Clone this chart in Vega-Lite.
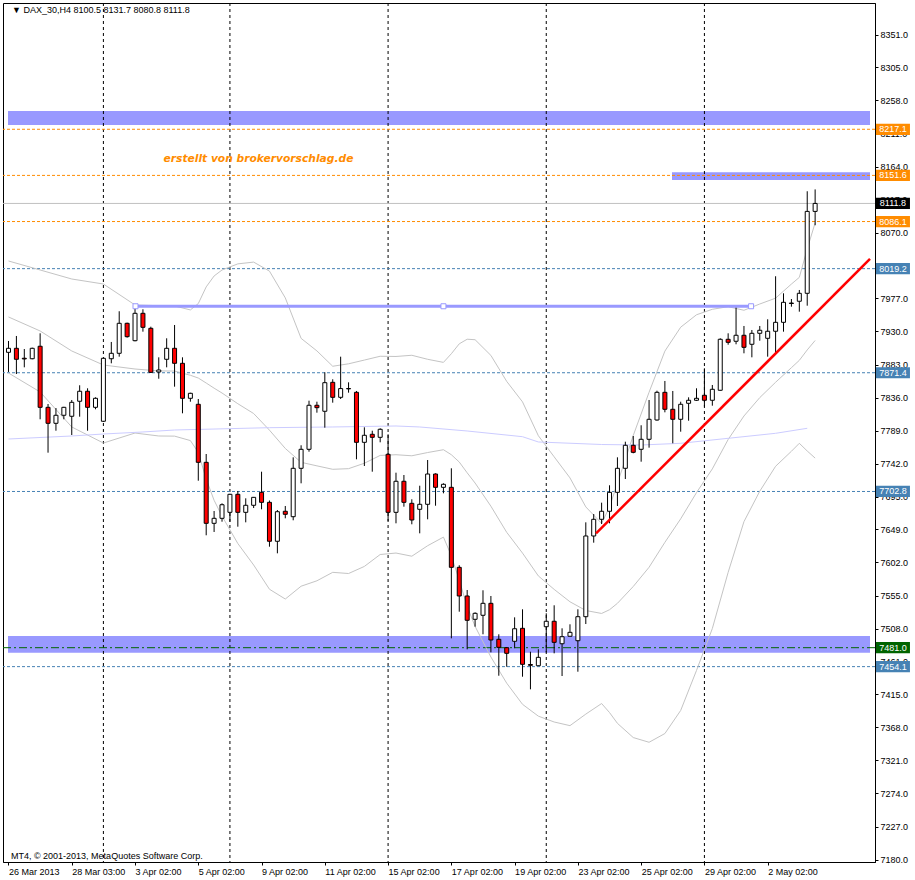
{
"$schema": "https://vega.github.io/schema/vega-lite/v6.json",
"width": 872, "height": 859,
"autosize": {"type": "none"},
"padding": {"left": 3, "top": 3, "right": 40, "bottom": 18},
"background": "white",
"config": {"view": {"stroke": "black", "strokeWidth": 1}, "font": "Liberation Sans",
 "axis": {"grid": false, "labelOverlap": false, "labelBound": false, "labelFlush": false}},
"resolve": {"axis": {"x": "independent", "y": "independent"}},
"datasets": {
"candles": [
{"i":0,"o":7900.4,"h":7916.5,"l":7872.5,"c":7906.1},
{"i":1,"o":7906.1,"h":7923.6,"l":7869.6,"c":7890.5},
{"i":2,"o":7892.0,"h":7905.1,"l":7879.1,"c":7891.0},
{"i":3,"o":7891.3,"h":7907.0,"l":7890.5,"c":7906.1},
{"i":4,"o":7909.0,"h":7927.4,"l":7805.3,"c":7822.3},
{"i":5,"o":7822.3,"h":7827.0,"l":7757.9,"c":7799.6},
{"i":6,"o":7799.6,"h":7821.3,"l":7789.1,"c":7811.0},
{"i":7,"o":7811.0,"h":7823.0,"l":7805.3,"c":7822.3},
{"i":8,"o":7809.6,"h":7832.7,"l":7783.0,"c":7829.4},
{"i":9,"o":7830.9,"h":7853.6,"l":7809.0,"c":7845.1},
{"i":10,"o":7845.1,"h":7849.3,"l":7789.1,"c":7822.3},
{"i":11,"o":7822.3,"h":7836.5,"l":7819.5,"c":7835.1},
{"i":12,"o":7802.5,"h":7892.5,"l":7801.5,"c":7891.9},
{"i":13,"o":7891.3,"h":7915.1,"l":7884.8,"c":7899.0},
{"i":14,"o":7899.0,"h":7958.7,"l":7894.2,"c":7941.6},
{"i":15,"o":7941.6,"h":7942.5,"l":7921.2,"c":7922.6},
{"i":16,"o":7916.9,"h":7967.6,"l":7916.0,"c":7955.8},
{"i":17,"o":7955.8,"h":7961.5,"l":7929.7,"c":7935.9},
{"i":18,"o":7934.5,"h":7936.8,"l":7871.0,"c":7872.0},
{"i":19,"o":7872.5,"h":7893.3,"l":7862.9,"c":7875.3},
{"i":20,"o":7890.5,"h":7920.3,"l":7879.1,"c":7906.1},
{"i":21,"o":7906.1,"h":7939.2,"l":7851.6,"c":7884.8},
{"i":22,"o":7884.8,"h":7893.3,"l":7813.8,"c":7835.1},
{"i":23,"o":7835.1,"h":7843.0,"l":7830.3,"c":7842.2},
{"i":24,"o":7826.6,"h":7834.1,"l":7718.1,"c":7744.2},
{"i":25,"o":7744.2,"h":7756.0,"l":7640.6,"c":7657.6},
{"i":26,"o":7657.6,"h":7675.1,"l":7645.3,"c":7664.7},
{"i":27,"o":7664.7,"h":7686.0,"l":7659.9,"c":7684.0},
{"i":28,"o":7673.2,"h":7699.5,"l":7659.9,"c":7698.8},
{"i":29,"o":7698.8,"h":7703.5,"l":7652.8,"c":7673.2},
{"i":30,"o":7673.2,"h":7693.1,"l":7659.0,"c":7683.2},
{"i":31,"o":7683.2,"h":7695.0,"l":7679.3,"c":7694.5},
{"i":32,"o":7701.6,"h":7730.9,"l":7677.5,"c":7687.4},
{"i":33,"o":7687.4,"h":7690.0,"l":7624.4,"c":7632.1},
{"i":34,"o":7632.1,"h":7676.5,"l":7615.0,"c":7674.1},
{"i":35,"o":7674.7,"h":7682.2,"l":7664.7,"c":7670.4},
{"i":36,"o":7667.0,"h":7751.3,"l":7661.9,"c":7735.7},
{"i":37,"o":7735.7,"h":7768.4,"l":7714.4,"c":7762.7},
{"i":38,"o":7762.7,"h":7831.7,"l":7759.3,"c":7825.2},
{"i":39,"o":7825.2,"h":7830.3,"l":7814.7,"c":7821.8},
{"i":40,"o":7816.7,"h":7872.0,"l":7793.4,"c":7857.3},
{"i":41,"o":7857.8,"h":7862.1,"l":7828.9,"c":7836.5},
{"i":42,"o":7836.5,"h":7894.2,"l":7834.1,"c":7848.9},
{"i":43,"o":7849.0,"h":7857.8,"l":7843.1,"c":7848.5},
{"i":44,"o":7843.6,"h":7845.5,"l":7748.5,"c":7772.6},
{"i":45,"o":7772.6,"h":7793.9,"l":7739.0,"c":7782.6},
{"i":46,"o":7784.0,"h":7789.1,"l":7730.9,"c":7779.7},
{"i":47,"o":7779.7,"h":7792.5,"l":7772.6,"c":7791.1},
{"i":48,"o":7755.6,"h":7784.0,"l":7660.9,"c":7673.2},
{"i":49,"o":7673.2,"h":7729.5,"l":7657.6,"c":7717.3},
{"i":50,"o":7717.3,"h":7726.2,"l":7681.2,"c":7687.4},
{"i":51,"o":7686.0,"h":7691.7,"l":7656.2,"c":7662.3},
{"i":52,"o":7677.5,"h":7711.0,"l":7643.4,"c":7684.6},
{"i":53,"o":7684.6,"h":7747.5,"l":7663.3,"c":7727.6},
{"i":54,"o":7727.6,"h":7728.6,"l":7682.6,"c":7708.7},
{"i":55,"o":7708.7,"h":7714.4,"l":7700.2,"c":7713.0},
{"i":56,"o":7708.7,"h":7735.7,"l":7494.3,"c":7595.1},
{"i":57,"o":7595.1,"h":7598.0,"l":7532.1,"c":7554.4},
{"i":58,"o":7554.4,"h":7562.9,"l":7478.7,"c":7519.9},
{"i":59,"o":7521.3,"h":7531.2,"l":7510.8,"c":7529.8},
{"i":60,"o":7527.0,"h":7562.5,"l":7500.0,"c":7544.0},
{"i":61,"o":7544.0,"h":7554.4,"l":7474.4,"c":7491.9},
{"i":62,"o":7492.9,"h":7500.0,"l":7441.2,"c":7481.5},
{"i":63,"o":7481.0,"h":7482.0,"l":7454.0,"c":7473.0},
{"i":64,"o":7490.1,"h":7524.1,"l":7480.1,"c":7507.9},
{"i":65,"o":7508.5,"h":7535.5,"l":7439.8,"c":7457.4},
{"i":66,"o":7457.1,"h":7475.3,"l":7421.9,"c":7456.0},
{"i":67,"o":7455.4,"h":7478.7,"l":7455.0,"c":7467.3},
{"i":68,"o":7510.8,"h":7529.8,"l":7474.4,"c":7518.5},
{"i":69,"o":7518.5,"h":7541.2,"l":7473.0,"c":7488.6},
{"i":70,"o":7486.6,"h":7508.5,"l":7440.8,"c":7496.6},
{"i":71,"o":7497.2,"h":7514.2,"l":7497.0,"c":7502.8},
{"i":72,"o":7490.9,"h":7535.5,"l":7446.9,"c":7525.0},
{"i":73,"o":7525.0,"h":7659.0,"l":7514.6,"c":7639.6},
{"i":74,"o":7639.6,"h":7670.8,"l":7630.1,"c":7663.3},
{"i":75,"o":7663.3,"h":7686.9,"l":7656.6,"c":7674.7},
{"i":76,"o":7674.7,"h":7711.6,"l":7657.6,"c":7701.6},
{"i":77,"o":7701.6,"h":7751.3,"l":7682.2,"c":7735.7},
{"i":78,"o":7735.7,"h":7773.5,"l":7720.5,"c":7768.4},
{"i":79,"o":7768.4,"h":7781.6,"l":7757.0,"c":7758.4},
{"i":80,"o":7762.7,"h":7796.8,"l":7745.1,"c":7776.9},
{"i":81,"o":7776.9,"h":7832.7,"l":7765.0,"c":7805.3},
{"i":82,"o":7804.3,"h":7845.9,"l":7803.3,"c":7843.6},
{"i":83,"o":7843.6,"h":7859.7,"l":7815.2,"c":7819.5},
{"i":84,"o":7819.5,"h":7845.5,"l":7771.2,"c":7805.3},
{"i":85,"o":7805.3,"h":7830.3,"l":7787.7,"c":7826.6},
{"i":86,"o":7828.0,"h":7836.5,"l":7803.3,"c":7832.3},
{"i":87,"o":7832.3,"h":7849.3,"l":7831.3,"c":7835.1},
{"i":88,"o":7839.4,"h":7877.7,"l":7823.2,"c":7832.3},
{"i":89,"o":7832.3,"h":7854.0,"l":7824.6,"c":7847.9},
{"i":90,"o":7846.5,"h":7920.3,"l":7846.0,"c":7918.9},
{"i":91,"o":7918.9,"h":7927.4,"l":7911.2,"c":7914.6},
{"i":92,"o":7916.1,"h":7967.2,"l":7911.8,"c":7924.6},
{"i":93,"o":7924.6,"h":7937.8,"l":7899.0,"c":7907.5},
{"i":94,"o":7911.8,"h":7932.1,"l":7893.3,"c":7927.4},
{"i":95,"o":7927.4,"h":7937.8,"l":7916.9,"c":7931.7},
{"i":96,"o":7920.3,"h":7947.3,"l":7894.2,"c":7930.3},
{"i":97,"o":7930.3,"h":8008.4,"l":7899.0,"c":7943.0},
{"i":98,"o":7943.0,"h":7984.2,"l":7929.7,"c":7971.4},
{"i":99,"o":7970.4,"h":7976.1,"l":7965.2,"c":7969.7},
{"i":100,"o":7972.9,"h":7988.9,"l":7958.1,"c":7984.2},
{"i":101,"o":7984.2,"h":8129.1,"l":7966.6,"c":8100.5},
{"i":102,"o":8100.5,"h":8131.7,"l":8080.8,"c":8111.8}
],
"bb": [
{"i":0,"u":8030.1,"m":7950.6,"l":7871.0},
{"i":4,"u":8017.3,"m":7930.7,"l":7844.1},
{"i":8,"u":8004.5,"m":7902.3,"l":7794.4},
{"i":12,"u":7997.4,"m":7882.4,"l":7771.6},
{"i":16,"u":7967.6,"m":7876.7,"l":7785.8},
{"i":19,"u":7966.6,"m":7874.0,"l":7781.6},
{"i":21,"u":7966.2,"m":7873.8,"l":7781.4},
{"i":23,"u":7960.6,"m":7867.8,"l":7775.1},
{"i":24,"u":7969.6,"m":7863.9,"l":7758.3},
{"i":25,"u":7993.3,"m":7856.8,"l":7720.4},
{"i":26,"u":8008.8,"m":7849.5,"l":7690.3},
{"i":27,"u":8017.3,"m":7842.6,"l":7667.8},
{"i":29,"u":8026.0,"m":7827.4,"l":7628.9},
{"i":31,"u":8028.5,"m":7813.5,"l":7598.4},
{"i":33,"u":8015.7,"m":7789.9,"l":7564.0},
{"i":35,"u":7977.7,"m":7763.9,"l":7550.1},
{"i":37,"u":7920.2,"m":7744.2,"l":7568.3},
{"i":39,"u":7902.4,"m":7739.2,"l":7576.0},
{"i":41,"u":7880.6,"m":7734.3,"l":7588.0},
{"i":43,"u":7884.1,"m":7735.2,"l":7586.3},
{"i":45,"u":7889.4,"m":7742.9,"l":7596.4},
{"i":47,"u":7894.8,"m":7754.0,"l":7613.3},
{"i":49,"u":7894.5,"m":7755.0,"l":7615.4},
{"i":51,"u":7896.2,"m":7753.5,"l":7610.9},
{"i":53,"u":7890.5,"m":7758.1,"l":7625.8},
{"i":55,"u":7886.1,"m":7762.1,"l":7638.0},
{"i":56,"u":7898.4,"m":7755.0,"l":7611.6},
{"i":57,"u":7912.5,"m":7744.6,"l":7576.7},
{"i":58,"u":7919.0,"m":7729.3,"l":7539.6},
{"i":59,"u":7918.3,"m":7714.8,"l":7511.2},
{"i":61,"u":7896.0,"m":7681.9,"l":7467.8},
{"i":63,"u":7859.1,"m":7644.8,"l":7430.6},
{"i":65,"u":7830.0,"m":7615.3,"l":7400.6},
{"i":67,"u":7782.0,"m":7582.9,"l":7383.8},
{"i":69,"u":7752.0,"m":7563.8,"l":7375.5},
{"i":71,"u":7722.1,"m":7546.2,"l":7370.3},
{"i":73,"u":7680.9,"m":7533.8,"l":7386.7},
{"i":75,"u":7657.5,"m":7529.6,"l":7401.7},
{"i":76,"u":7680.9,"m":7534.9,"l":7388.9},
{"i":77,"u":7714.4,"m":7544.0,"l":7373.6},
{"i":79,"u":7782.3,"m":7567.9,"l":7353.4},
{"i":81,"u":7843.7,"m":7595.2,"l":7346.7},
{"i":83,"u":7902.1,"m":7630.6,"l":7359.1},
{"i":85,"u":7936.1,"m":7664.0,"l":7391.9},
{"i":87,"u":7953.7,"m":7701.2,"l":7448.7},
{"i":89,"u":7961.5,"m":7734.9,"l":7508.2},
{"i":91,"u":7965.2,"m":7776.6,"l":7588.0},
{"i":93,"u":7960.1,"m":7810.0,"l":7660.0},
{"i":95,"u":7969.0,"m":7836.1,"l":7703.2},
{"i":97,"u":7977.3,"m":7857.9,"l":7738.6},
{"i":99,"u":7997.3,"m":7878.6,"l":7759.9},
{"i":100,"u":8006.8,"m":7889.0,"l":7771.2},
{"i":101,"u":8047.3,"m":7903.8,"l":7760.3},
{"i":102,"u":8084.2,"m":7917.2,"l":7750.2}
],
"bands": [
{"i":-0.0625,"i2":108.9375,"lo":8223.2,"hi":8243.1},
{"i":83.9,"i2":108.9375,"lo":8145.1,"hi":8156.0},
{"i":-0.0625,"i2":108.9375,"lo":7473.9,"hi":7497.6}
],
"seps": [{"i":12},{"i":28},{"i":48},{"i":68},{"i":88}],
"levels": [
{"p":8217.1,"kind":"orange"},{"p":8151.6,"kind":"orange"},{"p":8086.1,"kind":"orange"},
{"p":8111.8,"kind":"bid"},
{"p":8019.2,"kind":"blue"},{"p":7871.4,"kind":"blue"},{"p":7702.8,"kind":"blue"},{"p":7454.1,"kind":"blue"},
{"p":7481.0,"kind":"green"}
],
"ma": [
{"i":0,"p":7777.3},{"i":8,"p":7781.6},{"i":12,"p":7784.4},{"i":17,"p":7787.3},{"i":21,"p":7790.1},
{"i":33,"p":7793.4},{"i":41,"p":7794.4},{"i":49,"p":7795.8},{"i":52,"p":7794.4},{"i":58,"p":7788.7},
{"i":65,"p":7780.6},{"i":67,"p":7773.1},{"i":75,"p":7769.5},{"i":80,"p":7768.8},{"i":85,"p":7771.2},
{"i":91,"p":7778.3},{"i":97,"p":7785.4},{"i":101,"p":7792.5}
],
"hline": [{"i":16.06,"i2":93.9,"p":7965.8}],
"anchors": [{"i":16.06,"p":7965.8},{"i":55.0,"p":7965.8},{"i":93.9,"p":7965.8}],
"redline": [{"i":74.3,"p":7643.4},{"i":108.9375,"p":8033.0}],
"tags": [
{"p":8217.1,"kind":"orange"},{"p":8151.6,"kind":"orange"},{"p":8111.8,"kind":"black"},{"p":8086.1,"kind":"orange"},
{"p":8019.2,"kind":"blue"},{"p":7871.4,"kind":"blue"},{"p":7702.8,"kind":"blue"},{"p":7481.0,"kind":"green"},{"p":7454.1,"kind":"blue"}
]
},
"data": {"name": "candles"},
"layer": [
{"data": {"name": "bands"}, "mark": {"type": "rect", "color": "#9999FF"},
 "encoding": {
  "x": {"field": "i", "type": "quantitative", "scale": {"domain": [-0.0625, 108.9375], "nice": false, "zero": false}, "axis": null},
  "x2": {"field": "i2"},
  "y": {"field": "lo", "type": "quantitative", "scale": {"domain": [7176.7, 8396.4], "nice": false, "zero": false}, "axis": null},
  "y2": {"field": "hi"}}},
{"data": {"name": "seps"}, "mark": {"type": "rule", "color": "black", "strokeDash": [3, 3], "strokeWidth": 1},
 "encoding": {"x": {"field": "i", "type": "quantitative", "scale": {"domain": [-0.0625, 108.9375], "nice": false, "zero": false}, "axis": null}}},
{"data": {"name": "levels"}, "mark": {"type": "rule", "strokeWidth": 1},
 "encoding": {
  "y": {"field": "p", "type": "quantitative", "scale": {"domain": [7176.7, 8396.4], "nice": false, "zero": false}, "axis": null},
  "color": {"field": "kind", "type": "nominal", "scale": {"domain": ["orange", "blue", "bid", "green"], "range": ["#FF8C00", "#4682B4", "#C0C0C0", "#006400"]}, "legend": null},
  "strokeDash": {"field": "kind", "type": "nominal", "scale": {"domain": ["orange", "blue", "bid", "green"], "range": [[3, 2], [3, 2], [1, 0], [8, 3, 2, 3]]}, "legend": null}}},
{"data": {"name": "bb"}, "mark": {"type": "line", "stroke": "#C4C4C4", "strokeWidth": 1},
 "encoding": {
  "x": {"field": "i", "type": "quantitative", "scale": {"domain": [-0.0625, 108.9375], "nice": false, "zero": false}, "axis": null},
  "y": {"field": "u", "type": "quantitative", "scale": {"domain": [7176.7, 8396.4], "nice": false, "zero": false}, "axis": null}}},
{"data": {"name": "bb"}, "mark": {"type": "line", "stroke": "#C4C4C4", "strokeWidth": 1},
 "encoding": {
  "x": {"field": "i", "type": "quantitative", "scale": {"domain": [-0.0625, 108.9375], "nice": false, "zero": false}, "axis": null},
  "y": {"field": "m", "type": "quantitative", "scale": {"domain": [7176.7, 8396.4], "nice": false, "zero": false}, "axis": null}}},
{"data": {"name": "bb"}, "mark": {"type": "line", "stroke": "#C4C4C4", "strokeWidth": 1},
 "encoding": {
  "x": {"field": "i", "type": "quantitative", "scale": {"domain": [-0.0625, 108.9375], "nice": false, "zero": false}, "axis": null},
  "y": {"field": "l", "type": "quantitative", "scale": {"domain": [7176.7, 8396.4], "nice": false, "zero": false}, "axis": null}}},
{"data": {"name": "ma"}, "mark": {"type": "line", "stroke": "#CCCCFF", "strokeWidth": 1},
 "encoding": {
  "x": {"field": "i", "type": "quantitative", "scale": {"domain": [-0.0625, 108.9375], "nice": false, "zero": false}, "axis": null},
  "y": {"field": "p", "type": "quantitative", "scale": {"domain": [7176.7, 8396.4], "nice": false, "zero": false}, "axis": null}}},
{"mark": {"type": "rule", "color": "black", "strokeWidth": 1},
 "encoding": {
  "x": {"field": "i", "type": "quantitative", "scale": {"domain": [-0.0625, 108.9375], "nice": false, "zero": false}, "axis": null},
  "y": {"field": "l", "type": "quantitative", "scale": {"domain": [7176.7, 8396.4], "nice": false, "zero": false}, "axis": null},
  "y2": {"field": "h"}}},
{"mark": {"type": "bar", "width": 4, "stroke": "black", "strokeWidth": 1},
 "encoding": {
  "x": {"field": "i", "type": "quantitative", "scale": {"domain": [-0.0625, 108.9375], "nice": false, "zero": false},
   "axis": {"values": [0, 8, 16, 24, 32, 40, 48, 56, 64, 72, 80, 88, 96],
    "labelExpr": "['26 Mar 2013','28 Mar 03:00','3 Apr 02:00','5 Apr 02:00','9 Apr 02:00','11 Apr 02:00','15 Apr 02:00','17 Apr 02:00','19 Apr 02:00','23 Apr 02:00','25 Apr 02:00','29 Apr 02:00','2 May 02:00'][round(datum.value/8)]",
    "labelAlign": "left", "labelBaseline": "top", "labelPadding": 2, "tickSize": 3, "tickColor": "black", "domainColor": "black",
    "labelColor": "black", "labelFont": "Liberation Sans", "labelFontSize": 9, "title": null, "grid": false,
    "labelOverlap": false, "labelBound": false, "labelFlush": false}},
  "y": {"field": "o", "type": "quantitative", "scale": {"domain": [7176.7, 8396.4], "nice": false, "zero": false},
   "axis": {"orient": "right", "values": [8351, 8305, 8258, 8211, 8164, 8117, 8070, 8023, 7977, 7930, 7883, 7836, 7789, 7742, 7695, 7649, 7602, 7555, 7508, 7461, 7415, 7368, 7321, 7274, 7227, 7180],
    "format": ".1f", "tickSize": 3, "labelPadding": 2, "labelFontSize": 9, "labelFont": "Liberation Sans", "labelColor": "black",
    "tickColor": "black", "domainColor": "black", "title": null, "grid": false, "labelOverlap": false, "labelBound": false, "labelFlush": false}},
  "y2": {"field": "c"},
  "fill": {"condition": {"test": "datum.c < datum.o", "value": "#FF0000"}, "value": "#FFFFFF"}}},
{"data": {"name": "hline"}, "mark": {"type": "rule", "color": "#9999FF", "strokeWidth": 3},
 "encoding": {
  "x": {"field": "i", "type": "quantitative", "scale": {"domain": [-0.0625, 108.9375], "nice": false, "zero": false}, "axis": null},
  "x2": {"field": "i2"},
  "y": {"field": "p", "type": "quantitative", "scale": {"domain": [7176.7, 8396.4], "nice": false, "zero": false}, "axis": null}}},
{"data": {"name": "anchors"}, "mark": {"type": "point", "shape": "square", "size": 25, "filled": true, "fill": "white", "stroke": "#9999FF", "strokeWidth": 1, "opacity": 1},
 "encoding": {
  "x": {"field": "i", "type": "quantitative", "scale": {"domain": [-0.0625, 108.9375], "nice": false, "zero": false}, "axis": null},
  "y": {"field": "p", "type": "quantitative", "scale": {"domain": [7176.7, 8396.4], "nice": false, "zero": false}, "axis": null}}},
{"data": {"name": "redline"}, "mark": {"type": "line", "color": "#FF0000", "strokeWidth": 2.5, "clip": true},
 "encoding": {
  "x": {"field": "i", "type": "quantitative", "scale": {"domain": [-0.0625, 108.9375], "nice": false, "zero": false}, "axis": null},
  "y": {"field": "p", "type": "quantitative", "scale": {"domain": [7176.7, 8396.4], "nice": false, "zero": false}, "axis": null}}},
{"data": {"name": "tags"}, "mark": {"type": "point", "shape": "M-1,-0.33L1,-0.33L1,0.33L-1,0.33Z", "size": 1156, "filled": true, "opacity": 1, "strokeWidth": 0},
 "encoding": {
  "x": {"datum": 111.84, "type": "quantitative", "scale": {"domain": [-0.0625, 108.9375], "nice": false, "zero": false}, "axis": null},
  "y": {"field": "p", "type": "quantitative", "scale": {"domain": [7176.7, 8396.4], "nice": false, "zero": false}, "axis": null},
  "fill": {"field": "kind", "type": "nominal", "scale": {"domain": ["orange", "blue", "black", "green"], "range": ["#FF8C00", "#4682B4", "#000000", "#006400"]}, "legend": null}}},
{"data": {"name": "tags"}, "mark": {"type": "text", "color": "white", "fontSize": 9, "align": "center", "baseline": "middle", "font": "Liberation Sans"},
 "encoding": {
  "x": {"datum": 111.84, "type": "quantitative", "scale": {"domain": [-0.0625, 108.9375], "nice": false, "zero": false}, "axis": null},
  "y": {"field": "p", "type": "quantitative", "scale": {"domain": [7176.7, 8396.4], "nice": false, "zero": false}, "axis": null},
  "text": {"field": "p", "type": "quantitative", "format": ".1f"}}},
{"data": {"values": [{"t": "▼ DAX_30,H4  8100.5 8131.7 8080.8 8111.8"}]},
 "mark": {"type": "text", "color": "black", "fontSize": 9, "align": "left", "baseline": "middle", "font": "Liberation Sans"},
 "encoding": {
  "x": {"datum": 0.44, "type": "quantitative", "scale": {"domain": [-0.0625, 108.9375], "nice": false, "zero": false}, "axis": null},
  "y": {"datum": 8385.8, "type": "quantitative", "scale": {"domain": [7176.7, 8396.4], "nice": false, "zero": false}, "axis": null},
  "text": {"field": "t"}}},
{"data": {"values": [{"t": "MT4, © 2001-2013, MetaQuotes Software Corp."}]},
 "mark": {"type": "text", "color": "black", "fontSize": 9, "align": "left", "baseline": "middle", "font": "Liberation Sans"},
 "encoding": {
  "x": {"datum": 0.31, "type": "quantitative", "scale": {"domain": [-0.0625, 108.9375], "nice": false, "zero": false}, "axis": null},
  "y": {"datum": 7185.9, "type": "quantitative", "scale": {"domain": [7176.7, 8396.4], "nice": false, "zero": false}, "axis": null},
  "text": {"field": "t"}}},
{"data": {"values": [{"t": "erstellt von brokervorschlag.de"}]},
 "mark": {"type": "text", "color": "#FF8C00", "fontSize": 10.7, "fontWeight": "bold", "fontStyle": "italic", "align": "left", "baseline": "middle", "font": "DejaVu Sans"},
 "encoding": {
  "x": {"datum": 19.6, "type": "quantitative", "scale": {"domain": [-0.0625, 108.9375], "nice": false, "zero": false}, "axis": null},
  "y": {"datum": 8175.6, "type": "quantitative", "scale": {"domain": [7176.7, 8396.4], "nice": false, "zero": false}, "axis": null},
  "text": {"field": "t"}}}
]
}
